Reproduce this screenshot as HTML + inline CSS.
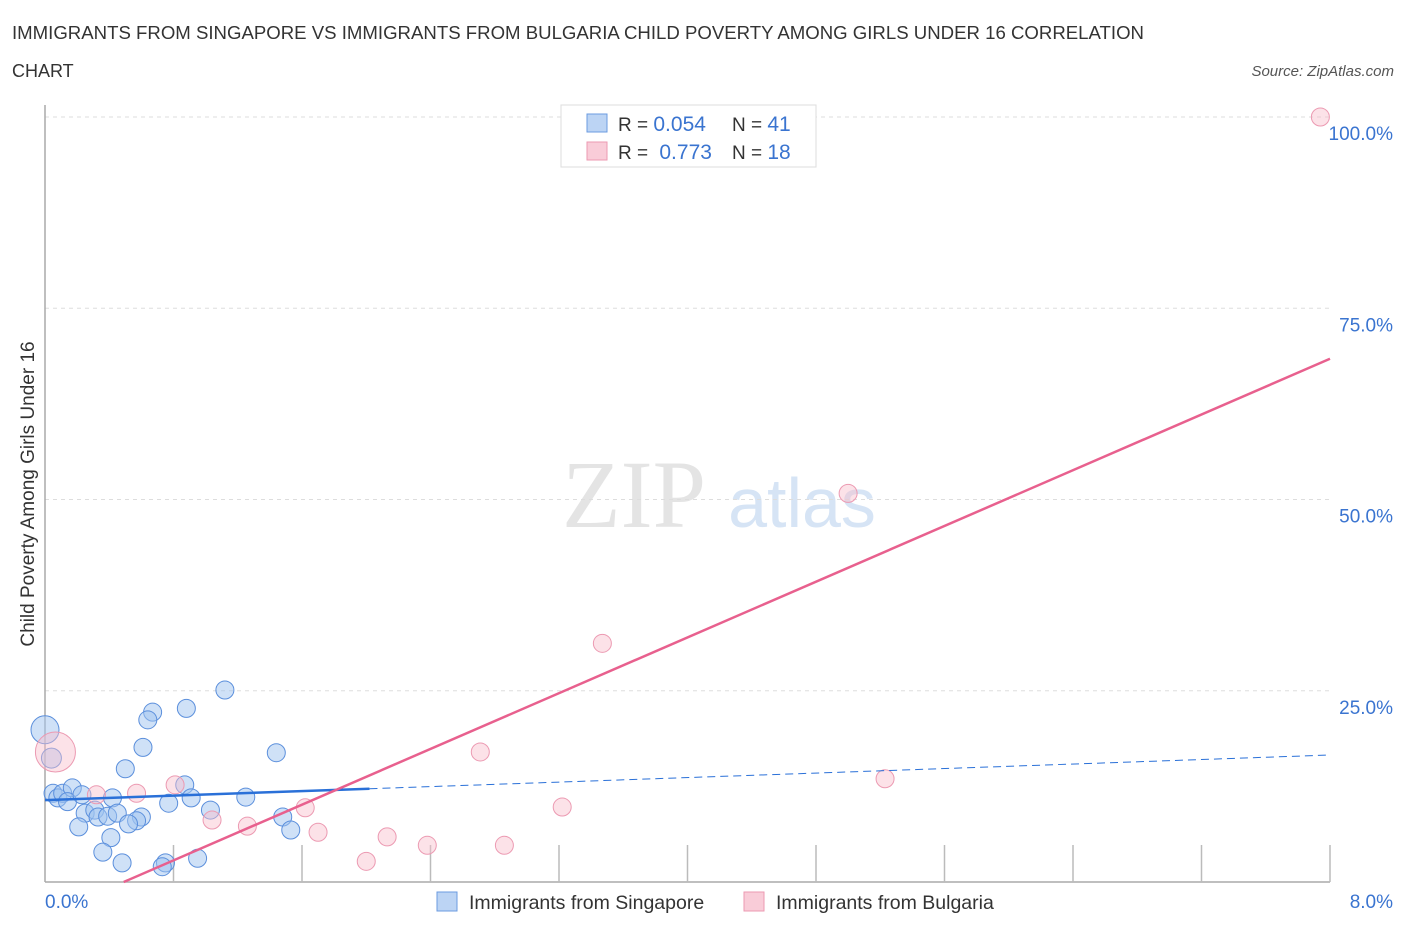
<!DOCTYPE html>
<html><head><meta charset="utf-8"><style>
body{margin:0;background:#fff;font-family:"Liberation Sans",sans-serif;}
</style></head><body>
<svg width="1406" height="930" viewBox="0 0 1406 930" xmlns="http://www.w3.org/2000/svg">
<text x="12" y="39" font-size="18" fill="#333" textLength="1132" lengthAdjust="spacingAndGlyphs">IMMIGRANTS FROM SINGAPORE VS IMMIGRANTS FROM BULGARIA CHILD POVERTY AMONG GIRLS UNDER 16 CORRELATION</text>
<text x="12" y="77" font-size="18" fill="#333">CHART</text>
<text x="1394" y="76" font-size="15" font-style="italic" fill="#555" text-anchor="end">Source: ZipAtlas.com</text>
<text x="634" y="527" font-size="96" font-family="Liberation Serif,serif" fill="#e4e4e4" text-anchor="middle">ZIP</text>
<text x="802" y="527" font-size="70" fill="#d6e4f5" text-anchor="middle">atlas</text>
<g id="grid"></g>
<line x1="45" y1="105" x2="45" y2="882" stroke="#aaa" stroke-width="1.5"/>
<line x1="45" y1="882" x2="1330" y2="882" stroke="#aaa" stroke-width="1.5"/>
<g id="ticks"></g>
<text x="34" y="494" font-size="19" fill="#333" text-anchor="middle" transform="rotate(-90 34 494)">Child Poverty Among Girls Under 16</text>
<g id="pts"></g>
<g id="lines"></g>
<text x="45" y="908" font-size="19" fill="#3a74d0">0.0%</text>
<text x="1393" y="908" font-size="19" fill="#3a74d0" text-anchor="end">8.0%</text>
<g>
<rect x="561" y="105" width="255" height="62" fill="#fff" stroke="#ddd"/>
<rect x="587" y="114" width="20" height="18" fill="#bcd4f4" stroke="#6b9be0"/>
<rect x="587" y="142" width="20" height="18" fill="#f9ccd8" stroke="#ec9ab2"/>
<text x="618" y="131" font-size="19" fill="#333">R = <tspan fill="#3a74d0" font-size="21">0.054</tspan></text>
<text x="732" y="131" font-size="19" fill="#333">N = <tspan fill="#3a74d0" font-size="21">41</tspan></text>
<text x="618" y="159" font-size="19" fill="#333">R = <tspan fill="#3a74d0" dx="6" font-size="21">0.773</tspan></text>
<text x="732" y="159" font-size="19" fill="#333">N = <tspan fill="#3a74d0" font-size="21">18</tspan></text>
</g>
<g>
<rect x="437" y="892" width="20" height="19" fill="#bcd4f4" stroke="#6b9be0"/>
<text x="469" y="909" font-size="19.5" fill="#333">Immigrants from Singapore</text>
<rect x="744" y="892" width="20" height="19" fill="#f9ccd8" stroke="#ec9ab2"/>
<text x="776" y="909" font-size="19.5" fill="#333">Immigrants from Bulgaria</text>
</g>
</svg>
<script>
const yTicks=[25,50,75,100];
const yTickLabels=["25.0%","50.0%","75.0%","100.0%"];
const xTicks=[0.8,1.6,2.4,3.2,4.0,4.8,5.6,6.4,7.2,8.0];
const blueX=[0,0.04,1.12,0.88,0.67,0.64,0.61,0.50,1.44,0.05,0.08,0.11,0.17,0.14,0.23,0.42,0.77,0.87,0.91,1.25,1.03,1.48,1.53,0.25,0.31,0.33,0.39,0.45,0.60,0.57,0.52,0.21,0.41,0.36,0.48,0.75,0.73,0.95];
const blueY=[19.9,16.2,25.1,22.7,22.2,21.2,17.6,14.8,16.9,11.6,11.0,11.6,12.3,10.5,11.4,11.0,10.3,12.7,11.0,11.1,9.4,8.5,6.8,9.0,9.4,8.5,8.6,9.0,8.5,8.0,7.6,7.2,5.8,3.9,2.5,2.5,2.0,3.1];
const pinkX=[0.04,0.32,0.57,0.81,1.04,1.26,1.62,1.70,2.13,2.38,2.00,2.86,3.22,2.71,3.47,5.0,5.23,7.94];
const pinkY=[17.0,11.4,11.6,12.7,8.1,7.3,9.7,6.5,5.9,4.8,2.7,4.8,9.8,17.0,31.2,50.8,13.5,100];
const blueTrend=[10.7,16.6]; // at x=0 and x=8
const pinkTrendX=[0.49,8]; const pinkTrendY=[0,68.4];
const sx=v=>45+v/8*1285, sy=v=>882-v/100*765;
const NS="http://www.w3.org/2000/svg";
function mk(tag,attrs,parent){const e=document.createElementNS(NS,tag);for(const k in attrs)e.setAttribute(k,attrs[k]);document.getElementById(parent).appendChild(e);return e;}
yTicks.forEach((t,i)=>{
 const g=mk('line',{x1:45,x2:1330,y1:sy(t),y2:sy(t),stroke:'#ddd','stroke-dasharray':'4,4'},'grid');
 
 
 const l=mk('text',{x:1393,y:sy(t)+23,'font-size':19,fill:'#3a74d0','text-anchor':'end'},'grid');
 l.textContent=yTickLabels[i];
 
 
});
xTicks.forEach(t=>{
 const l=mk('line',{x1:sx(t),x2:sx(t),y1:845,y2:882,stroke:'#bbb','stroke-width':1.5},'ticks');
 
 
});
blueX.forEach((x,i)=>{
 const c=mk('circle',{cx:sx(x),cy:sy(blueY[i]),r:i==0?14:(i==1?10:9),fill:'rgba(160,195,240,0.5)',stroke:'#5b8fdc','stroke-width':1},'pts');
 
 
});
pinkX.forEach((x,i)=>{
 const c=mk('circle',{cx:sx(x)+(i==0?4:0),cy:sy(pinkY[i]),r:i==0?20:9,fill:'rgba(248,190,205,0.45)',stroke:'#ec9ab2','stroke-width':1},'pts');
 
 
});
const bAt=x=>blueTrend[0]+(blueTrend[1]-blueTrend[0])*x/8;
const b1=mk('line',{x1:sx(0),y1:sy(bAt(0)),x2:sx(2.02),y2:sy(bAt(2.02)),stroke:'#2a70d8','stroke-width':2.5},'lines');


const b2=mk('line',{x1:sx(2.02),y1:sy(bAt(2.02)),x2:sx(8),y2:sy(bAt(8)),stroke:'#2a70d8','stroke-width':1,'stroke-dasharray':'8,5'},'lines');


const p1=mk('line',{x1:sx(pinkTrendX[0]),y1:sy(pinkTrendY[0]),x2:sx(pinkTrendX[1]),y2:sy(pinkTrendY[1]),stroke:'#e8608e','stroke-width':2.5},'lines');


</script>
</body></html>
